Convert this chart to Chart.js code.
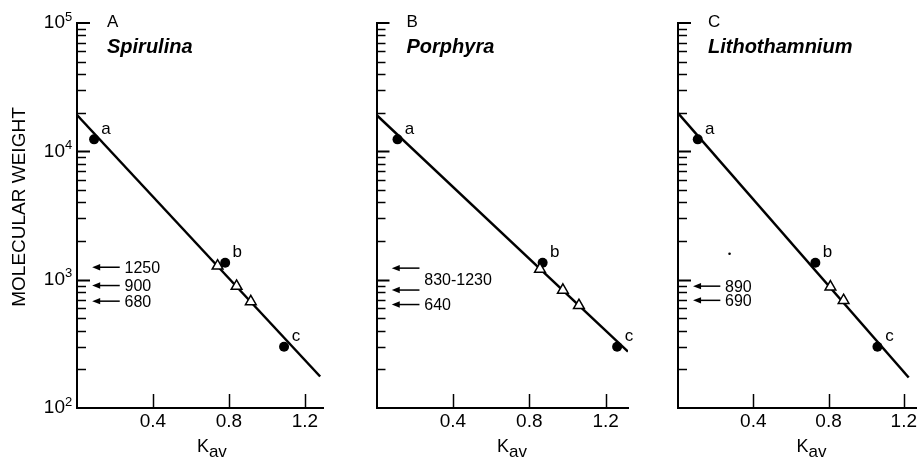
<!DOCTYPE html>
<html>
<head>
<meta charset="utf-8">
<script src="https://cdn.jsdelivr.net/npm/chart.js@4.4.1/dist/chart.umd.min.js"></script>
<style>
  html, body { margin: 0; padding: 0; background: #fff; }
  #wrap { position: relative; width: 919px; height: 460px; overflow: hidden; background: #fff; }
  #wrap canvas { position: absolute; left: 0; top: 0; }
</style>
</head>
<body>
<div id="wrap">
  <canvas id="chartA" width="919" height="460"></canvas>
  <canvas id="chartB" width="919" height="460"></canvas>
  <canvas id="chartC" width="919" height="460"></canvas>
</div>
<script>
// values
const panelLetters = ['A', 'B', 'C'];
const speciesNames = ['Spirulina', 'Porphyra', 'Lithothamnium'];

// calibration standards (filled circles)
const standardLabels = ['a', 'b', 'c'];
const standardMW = [12400, 1355, 300];
const standardKavA = [0.09, 0.78, 1.09];
const standardKavB = [0.11, 0.87, 1.26];
const standardKavC = [0.105, 0.73, 1.06];

// sample peaks (open triangles)
const peakKavA = [0.74, 0.84, 0.915];
const peakMWA = [1280, 890, 675];
const peakKavB = [0.856, 0.976, 1.06];
const peakMWB = [1210, 830, 630];
const peakKavC = [0.81, 0.88];
const peakMWC = [880, 690];

// calibration line end points
const lineKavA = [0, 1.28];
const lineMWA = [19200, 176];
const lineKavB = [0, 1.317];
const lineMWB = [19200, 275];
const lineKavC = [0, 1.226];
const lineMWC = [19900, 173];

// arrows on the left and their labels
const arrowMWA = [1250, 900, 680];
const arrowTextMWA = [1250, 900, 680];
const arrowTextA = ['1250', '900', '680'];
const arrowMWB = [1230, 830, 640];
const arrowTextMWB = [1010, 640];
const arrowTextB = ['830-1230', '640'];
const arrowMWC = [890, 690];
const arrowTextMWC = [890, 690];
const arrowTextC = ['890', '690'];

// speck in panel C
const speckKavC = [0.274];
const speckMWC = [1590];

// axes
const xTickValues = [0.4, 0.8, 1.2];
const xMaxValues = [1.295, 1.317, 1.268];
const yMin = 100;
const yMax = 100000;
const yDecades = [100, 1000, 10000, 100000];
const yDecadeExp = ['2', '3', '4', '5'];

const FONT = '"Liberation Sans", Arial, Helvetica, sans-serif';

const panels = [
  { kav: standardKavA, peakKav: peakKavA, peakMW: peakMWA, lineKav: lineKavA, lineMW: lineMWA,
    arrows: arrowMWA, arrowAt: arrowTextMWA, arrowText: arrowTextA, speckKav: [], speckMW: [] },
  { kav: standardKavB, peakKav: peakKavB, peakMW: peakMWB, lineKav: lineKavB, lineMW: lineMWB,
    arrows: arrowMWB, arrowAt: arrowTextMWB, arrowText: arrowTextB, speckKav: [], speckMW: [] },
  { kav: standardKavC, peakKav: peakKavC, peakMW: peakMWC, lineKav: lineKavC, lineMW: lineMWC,
    arrows: arrowMWC, arrowAt: arrowTextMWC, arrowText: arrowTextC, speckKav: speckKavC, speckMW: speckMWC }
];

// plot area of each panel, in pixels
const areas = [
  { left: 77, right: 323 },
  { left: 376.5, right: 628 },
  { left: 678, right: 919 }
];
const areaTop = 23;
const areaBottom = 408;

const toPoints = (xs, ys) => xs.map((v, i) => ({ x: v, y: ys[i] }));

const decor = {
  id: 'decor',
  afterDraw(chart, args, opts) {
    const { ctx, chartArea: ca, scales: { x, y } } = chart;
    const p = panels[opts.index];
    ctx.save();
    ctx.strokeStyle = '#000';
    ctx.fillStyle = '#000';

    // inward log ticks on y axis
    for (let d = 0; d < yDecades.length - 1; d++) {
      for (let m = 1; m <= 9; m++) {
        const v = yDecades[d] * m;
        if (v === yMin) continue;
        const py = Math.round(y.getPixelForValue(v)) + 0.5;
        ctx.lineWidth = m === 1 ? 2 : 1.5;
        ctx.beginPath();
        ctx.moveTo(ca.left, py);
        ctx.lineTo(ca.left + (m === 1 ? 13 : 9), py);
        ctx.stroke();
      }
    }
    let py = y.getPixelForValue(yMax);
    ctx.lineWidth = 2;
    ctx.beginPath();
    ctx.moveTo(ca.left, py);
    ctx.lineTo(ca.left + 13, py);
    ctx.stroke();

    // inward ticks on x axis
    ctx.lineWidth = 1.5;
    xTickValues.forEach(v => {
      const px = Math.round(x.getPixelForValue(v)) + 0.5;
      ctx.beginPath();
      ctx.moveTo(px, ca.bottom);
      ctx.lineTo(px, ca.bottom - 14);
      ctx.stroke();
    });

    // y tick labels and title only on the first panel
    if (opts.index === 0) {
      yDecades.forEach((v, i) => {
        const ty = y.getPixelForValue(v);
        ctx.font = '19px ' + FONT;
        ctx.textAlign = 'right';
        ctx.textBaseline = 'middle';
        ctx.fillText('10', ca.left - 12, ty);
        ctx.font = '13px ' + FONT;
        ctx.textAlign = 'left';
        ctx.fillText(yDecadeExp[i], ca.left - 12, ty - 6);
      });
      ctx.save();
      ctx.translate(20, 207);
      ctx.rotate(-Math.PI / 2);
      ctx.font = '19px ' + FONT;
      ctx.textAlign = 'center';
      ctx.textBaseline = 'middle';
      ctx.fillText('MOLECULAR WEIGHT', 0, 0);
      ctx.restore();
    }

    // x title K_av
    const kx = x.getPixelForValue(0.71);
    ctx.font = '18px ' + FONT;
    const kw = ctx.measureText('K').width;
    ctx.font = '17px ' + FONT;
    const sw = ctx.measureText('av').width;
    ctx.textAlign = 'left';
    ctx.textBaseline = 'alphabetic';
    ctx.font = '18px ' + FONT;
    ctx.fillText('K', kx - (kw + sw) / 2, 452);
    ctx.font = '17px ' + FONT;
    ctx.fillText('av', kx - (kw + sw) / 2 + kw, 457);

    // panel letter and species
    ctx.font = '17px ' + FONT;
    ctx.textBaseline = 'alphabetic';
    ctx.fillText(panelLetters[opts.index], ca.left + 30, 27);
    ctx.font = 'italic bold 20px ' + FONT;
    ctx.fillText(speciesNames[opts.index], ca.left + 30, 53);

    // arrows
    ctx.lineWidth = 1.5;
    p.arrows.forEach(v => {
      const ay = y.getPixelForValue(v);
      const x0 = x.getPixelForValue(0.08);
      const x1 = x.getPixelForValue(0.225);
      ctx.beginPath();
      ctx.moveTo(x1, ay);
      ctx.lineTo(x0 + 6, ay);
      ctx.stroke();
      ctx.beginPath();
      ctx.moveTo(x0, ay);
      ctx.lineTo(x0 + 8, ay - 3.2);
      ctx.lineTo(x0 + 8, ay + 3.2);
      ctx.closePath();
      ctx.fill();
    });
    ctx.font = '16px ' + FONT;
    ctx.textAlign = 'left';
    ctx.textBaseline = 'middle';
    p.arrowText.forEach((t, i) => {
      ctx.fillText(t, x.getPixelForValue(0.25), y.getPixelForValue(p.arrowAt[i]) + 1);
    });

    // standard labels
    ctx.font = '17px ' + FONT;
    ctx.textAlign = 'center';
    standardLabels.forEach((t, i) => {
      ctx.fillText(t, x.getPixelForValue(p.kav[i]) + 12, y.getPixelForValue(standardMW[i]) - 10);
    });
    ctx.restore();
  }
};

function makeChart(id, index) {
  const p = panels[index];
  const a = areas[index];
  return new Chart(document.getElementById(id), {
    type: 'scatter',
    data: {
      datasets: [
        {
          label: 'peaks',
          data: toPoints(p.peakKav, p.peakMW),
          pointStyle: 'triangle',
          pointRadius: 6.2,
          backgroundColor: '#fff',
          borderColor: '#000',
          borderWidth: 1.5
        },
        {
          label: 'standards',
          data: toPoints(p.kav, standardMW),
          pointStyle: 'circle',
          pointRadius: 5,
          backgroundColor: '#000',
          borderWidth: 0
        },
        {
          label: 'speck',
          data: toPoints(p.speckKav, p.speckMW),
          pointRadius: 1.3,
          backgroundColor: '#000',
          borderWidth: 0
        },
        {
          label: 'calibration',
          data: toPoints(p.lineKav, p.lineMW),
          showLine: true,
          pointRadius: 0,
          borderColor: '#000',
          borderWidth: 2.5
        }
      ]
    },
    options: {
      responsive: false,
      animation: false,
      events: [],
      layout: {
        autoPadding: false,
        padding: { left: a.left, right: 919 - a.right, top: areaTop, bottom: 0 }
      },
      plugins: {
        legend: { display: false },
        title: { display: false },
        tooltip: { enabled: false },
        decor: { index: index }
      },
      scales: {
        x: {
          type: 'linear',
          min: 0,
          max: xMaxValues[index],
          grid: { display: false, drawTicks: false },
          border: { display: true, color: '#000', width: 2 },
          ticks: {
            stepSize: 0.4,
            includeBounds: false,
            maxRotation: 0,
            autoSkip: false,
            padding: 2,
            color: '#000',
            font: { family: FONT, size: 19 },
            callback: v => xTickValues.some(t => Math.abs(t - v) < 1e-6) ? v.toFixed(1) : ''
          },
          afterFit: s => { s.height = 460 - areaBottom; }
        },
        y: {
          type: 'logarithmic',
          min: yMin,
          max: yMax,
          grid: { display: false, drawTicks: false },
          border: { display: true, color: '#000', width: 2 },
          ticks: { display: false },
          afterFit: s => { s.width = 0; }
        }
      }
    },
    plugins: [decor]
  });
}

makeChart('chartA', 0);
makeChart('chartB', 1);
makeChart('chartC', 2);
</script>
</body>
</html>
